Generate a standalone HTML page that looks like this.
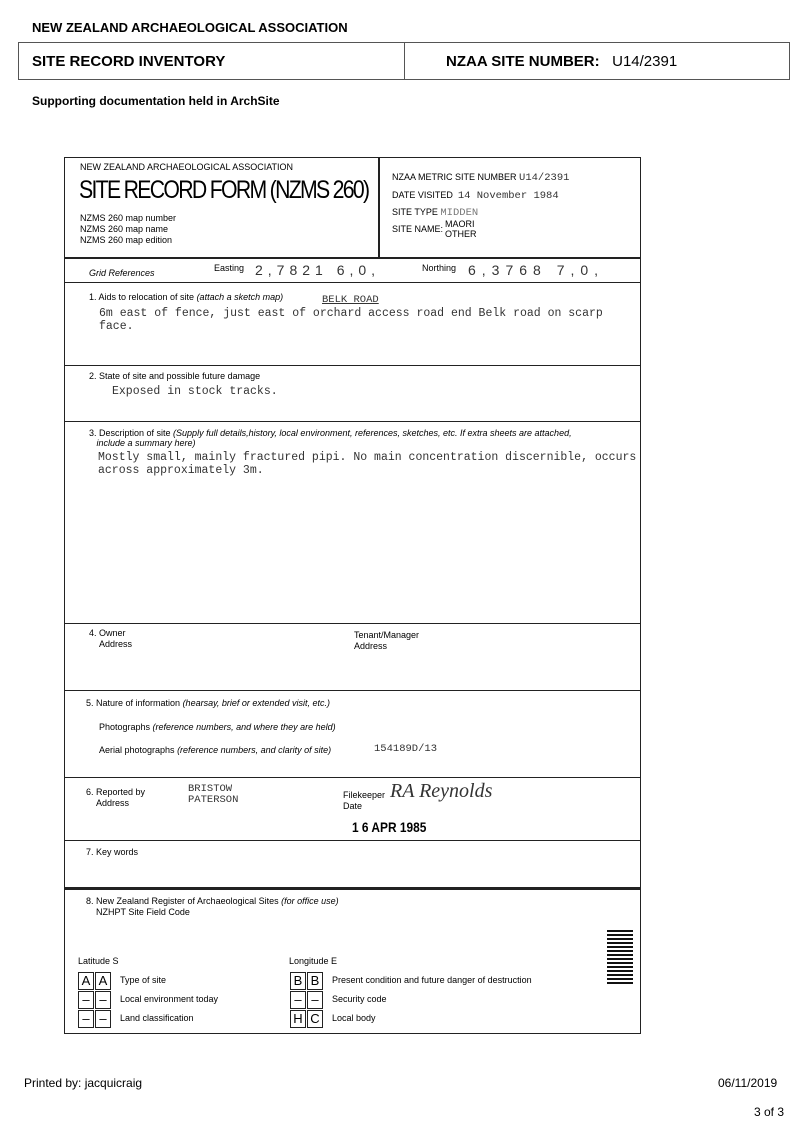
<!DOCTYPE html>
<html><head><meta charset="utf-8"><style>
body{margin:0;width:807px;height:1140px;background:#fff;position:relative;font-family:"Liberation Sans",sans-serif;color:#000;overflow:hidden}
.a{position:absolute;white-space:nowrap}
.b{font-weight:bold}
.f{font-size:9px}
.i{font-style:italic}
.m{font-family:"Liberation Mono",monospace;font-size:10.5px;color:#333}
.mm{font-family:"Liberation Mono",monospace;font-size:11.5px;color:#333}
.ln{position:absolute;background:#222}
.bx{position:absolute;border:1.5px solid #222;width:14px;height:16px;font-size:13px;text-align:center;line-height:16px}
</style></head><body>
<div class="a b" style="left:32px;top:20px;font-size:13px">NEW ZEALAND ARCHAEOLOGICAL ASSOCIATION</div>
<div style="position:absolute;left:18px;top:42px;width:770px;height:36px;border:1px solid #555"></div>
<div class="ln" style="left:404px;top:42px;width:1px;height:38px;background:#555"></div>
<div class="a b" style="left:32px;top:53px;font-size:15px">SITE RECORD INVENTORY</div>
<div class="a b" style="left:446px;top:53px;font-size:15px">NZAA SITE NUMBER:&nbsp;&nbsp;&nbsp;<span style="font-weight:normal">U14/2391</span></div>
<div class="a b" style="left:32px;top:94px;font-size:12px">Supporting documentation held in ArchSite</div>

<div style="position:absolute;left:64px;top:157px;width:575px;height:875px;border:1.5px solid #222"></div>
<div class="ln" style="left:378px;top:157px;width:1.5px;height:100px"></div>
<div class="ln" style="left:64px;top:257px;width:576px;height:1.5px"></div>
<div class="ln" style="left:64px;top:282px;width:576px;height:1px"></div>
<div class="ln" style="left:64px;top:365px;width:576px;height:1px"></div>
<div class="ln" style="left:64px;top:421px;width:576px;height:1px"></div>
<div class="ln" style="left:64px;top:623px;width:576px;height:1px"></div>
<div class="ln" style="left:64px;top:690px;width:576px;height:1px"></div>
<div class="ln" style="left:64px;top:777px;width:576px;height:1px"></div>
<div class="ln" style="left:64px;top:840px;width:576px;height:1px"></div>
<div class="ln" style="left:64px;top:887px;width:576px;height:2.5px"></div>

<div class="a f" style="left:80px;top:162px">NEW ZEALAND ARCHAEOLOGICAL ASSOCIATION</div>
<div class="a" style="left:79px;top:176px;font-size:25px;letter-spacing:-2px;transform:scaleX(0.85);transform-origin:left">SITE RECORD FORM (NZMS 260)</div>
<div class="a f" style="left:80px;top:213px;line-height:11px">NZMS 260 map number<br>NZMS 260 map name<br>NZMS 260 map edition</div>
<div class="a f" style="left:392px;top:172px">NZAA METRIC SITE NUMBER <span class="m">U14/2391</span></div>
<div class="a f" style="left:392px;top:190px">DATE VISITED&nbsp; <span class="m">14 November 1984</span></div>
<div class="a f" style="left:392px;top:207px">SITE TYPE <span class="m" style="color:#777">MIDDEN</span></div>
<div class="a f" style="left:392px;top:224px">SITE NAME:</div>
<div class="a f" style="left:445px;top:219px;line-height:10px">MAORI<br>OTHER</div>

<div class="a f i" style="left:89px;top:268px">Grid References</div>
<div class="a f" style="left:214px;top:263px">Easting</div>
<div class="a" style="left:255px;top:262px;font-size:14px;letter-spacing:5px;color:#333">2,7821 6,0,</div>
<div class="a f" style="left:422px;top:263px">Northing</div>
<div class="a" style="left:468px;top:262px;font-size:14px;letter-spacing:6px;color:#333">6,3768 7,0,</div>

<div class="a f" style="left:89px;top:292px">1. Aids to relocation of site <i>(attach a sketch map)</i></div>
<div class="a m" style="left:322px;top:294px;text-decoration:underline">BELK ROAD</div>
<div class="a mm" style="left:99px;top:307px;line-height:13px">6m east of fence, just  east of orchard access road end Belk road on scarp<br>face.</div>
<div class="a f" style="left:89px;top:371px">2. State of site and possible future damage</div>
<div class="a mm" style="left:112px;top:385px">Exposed in stock tracks.</div>
<div class="a f" style="left:89px;top:428px;line-height:10px">3. Description of site <i>(Supply full details,history, local environment, references, sketches, etc. If extra sheets are attached,<br>&nbsp;&nbsp;&nbsp;include a summary here)</i></div>
<div class="a mm" style="left:98px;top:451px;line-height:13px">Mostly small, mainly fractured pipi.  No main concentration discernible, occurs<br>across approximately 3m.</div>
<div class="a f" style="left:89px;top:628px;line-height:11px">4. Owner<br>&nbsp;&nbsp;&nbsp;&nbsp;Address</div>
<div class="a f" style="left:354px;top:630px;line-height:11px">Tenant/Manager<br>Address</div>
<div class="a f" style="left:86px;top:698px">5. Nature of information <i>(hearsay, brief or extended visit, etc.)</i></div>
<div class="a f" style="left:99px;top:722px">Photographs <i>(reference numbers, and where they are held)</i></div>
<div class="a f" style="left:99px;top:745px">Aerial photographs <i>(reference numbers, and clarity of site)</i></div>
<div class="a m" style="left:374px;top:743px">154189D/13</div>
<div class="a f" style="left:86px;top:787px;line-height:11px">6. Reported by<br>&nbsp;&nbsp;&nbsp;&nbsp;Address</div>
<div class="a m" style="left:188px;top:784px;line-height:11px">BRISTOW<br>PATERSON</div>
<div class="a f" style="left:343px;top:790px;line-height:11px">Filekeeper<br>Date</div>
<div class="a i" style="left:390px;top:780px;font-size:20px;font-family:'Liberation Serif',serif;color:#333">RA Reynolds</div>
<div class="a" style="left:352px;top:819px;font-size:14px;font-weight:bold;transform:scaleX(0.85);transform-origin:left">1 6 APR 1985</div>
<div class="a f" style="left:86px;top:847px">7. Key words</div>
<div class="a f" style="left:86px;top:896px;line-height:11px">8. New Zealand Register of Archaeological Sites <i>(for office use)</i><br>&nbsp;&nbsp;&nbsp;&nbsp;NZHPT Site Field Code</div>
<div class="a f" style="left:78px;top:956px">Latitude S</div>
<div class="a f" style="left:289px;top:956px">Longitude E</div>
<div class="bx" style="left:78px;top:972px">A</div><div class="bx" style="left:95px;top:972px">A</div>
<div class="bx" style="left:78px;top:991px">–</div><div class="bx" style="left:95px;top:991px">–</div>
<div class="bx" style="left:78px;top:1010px">–</div><div class="bx" style="left:95px;top:1010px">–</div>
<div class="a f" style="left:120px;top:975px">Type of site</div>
<div class="a f" style="left:120px;top:994px">Local environment today</div>
<div class="a f" style="left:120px;top:1013px">Land classification</div>
<div class="bx" style="left:290px;top:972px">B</div><div class="bx" style="left:307px;top:972px">B</div>
<div class="bx" style="left:290px;top:991px">–</div><div class="bx" style="left:307px;top:991px">–</div>
<div class="bx" style="left:290px;top:1010px">H</div><div class="bx" style="left:307px;top:1010px">C</div>
<div class="a f" style="left:332px;top:975px">Present condition and future danger of destruction</div>
<div class="a f" style="left:332px;top:994px">Security code</div>
<div class="a f" style="left:332px;top:1013px">Local body</div>
<div style="position:absolute;left:607px;top:930px;width:26px;height:56px;background:repeating-linear-gradient(#111 0 2px,#fff 2px 4px)"></div>

<div class="a" style="left:24px;top:1076px;font-size:12px">Printed by: jacquicraig</div>
<div class="a" style="left:718px;top:1076px;font-size:12px">06/11/2019</div>
<div class="a" style="left:754px;top:1105px;font-size:12px">3 of 3</div>
</body></html>
